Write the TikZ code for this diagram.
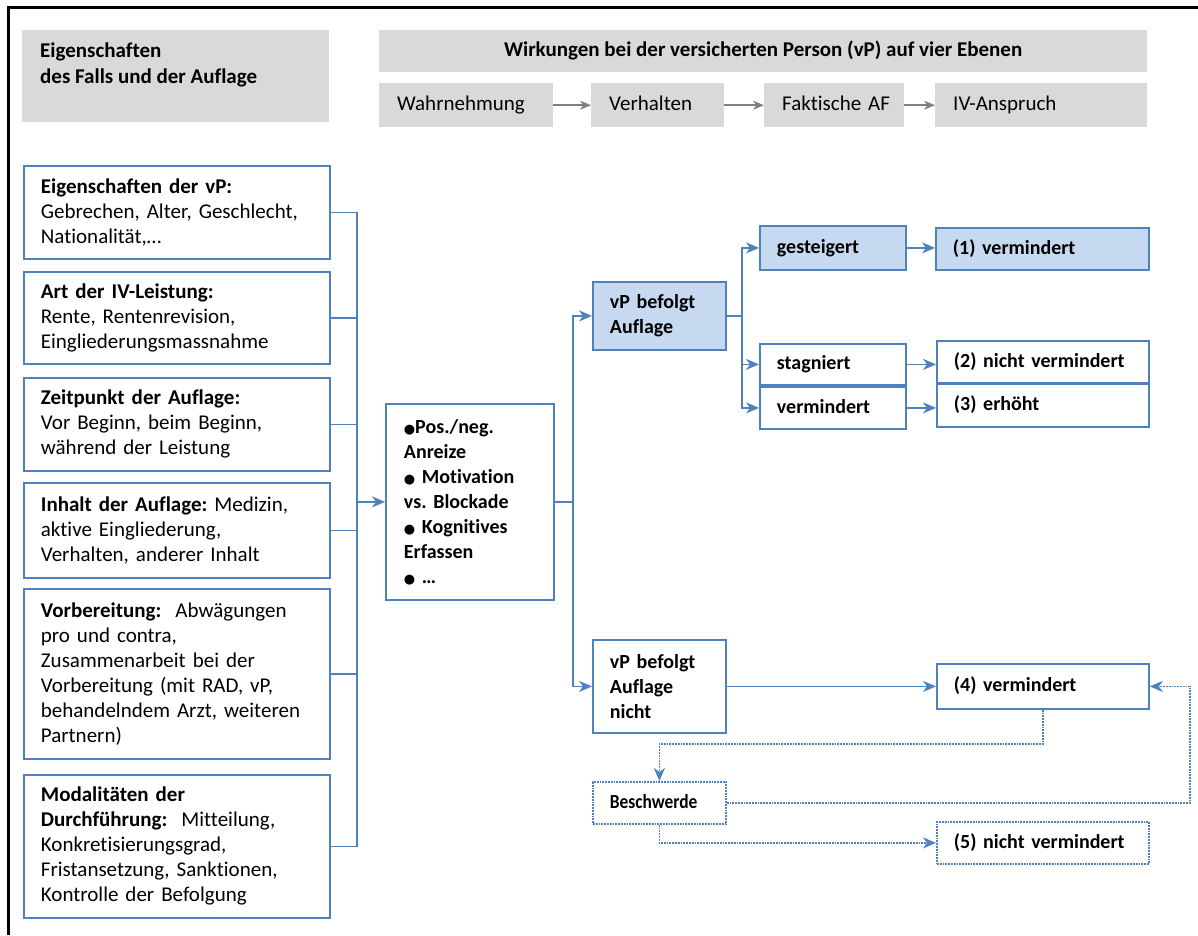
\documentclass[tikz,border=0pt]{standalone}
\usepackage{fontspec}
\setmainfont{Carlito}[Ligatures=NoCommon]
\newfontfamily\symfont{DejaVu Sans}
\newfontfamily\condfont{Carlito}[FakeStretch=0.87]
\usetikzlibrary{arrows.meta}
\definecolor{bl}{RGB}{79,129,189}
\definecolor{lb}{RGB}{198,217,241}
\definecolor{gr}{RGB}{217,217,217}
\definecolor{ga}{RGB}{128,128,128}
\newcommand\blt{{\symfont\fontsize{13}{25}\selectfont ●}}
\begin{document}
\frenchspacing
\begin{tikzpicture}[x=1pt,y=-1pt,
  every node/.style={font=\fontsize{21}{25}\selectfont},
  bf/.style={font=\fontsize{20}{25}\selectfont\bfseries},
  sl/.style={text height=15pt, text depth=4pt},
  bx/.style={draw=bl, line width=1.8pt, inner xsep=17pt, inner ysep=0pt, align=left, anchor=north west},
  fbx/.style={bx, fill=lb},
  dbx/.style={bx, densely dotted},
  gbx/.style={fill=gr, inner xsep=18pt, inner ysep=0pt, align=left, anchor=north west},
  con/.style={draw=bl, line width=1.8pt},
  arr/.style={con, -{Stealth[length=13pt,width=11pt,inset=4pt]}},
  dcon/.style={con, densely dotted},
  darr/.style={dcon, -{Stealth[length=13pt,width=11pt,inset=4pt]}},
  garr/.style={draw=ga, line width=1.5pt, -{Stealth[length=11pt,width=9pt,inset=3.5pt]}}
]
\useasboundingbox (0,0) rectangle (1198,935);
\draw[line width=2.5pt] (8.5,935) -- (8.5,7.5) -- (1198,7.5);

% header
\node[gbx, minimum width=307pt, minimum height=92pt] (hL) at (22,30) {};
\node[anchor=north west, inner sep=0pt, align=left, font=\fontsize{21}{26}\selectfont\bfseries] (hLt) at (40,42.5) {Eigenschaften\\des Falls und der Auflage};
\node[gbx, sl, minimum width=768pt, minimum height=42pt, align=center, font=\fontsize{21}{25}\selectfont\bfseries] (hT) at (379,30) {Wirkungen bei der versicherten Person (vP) auf vier Ebenen};
\node[gbx, sl, text width=138pt, minimum height=44pt] (g1) at (379,83) {Wahrnehmung};
\node[gbx, sl, text width=97pt, minimum height=44pt] (g2) at (591,83) {Verhalten};
\node[gbx, sl, text width=104pt, minimum height=44pt] (g3) at (764,83) {\mbox{Faktische AF}};
\node[gbx, sl, text width=176pt, minimum height=44pt] (g4) at (935,83) {IV-Anspruch};
\draw[garr] (g1.east) -- (g2.west);
\draw[garr] (g2.east) -- (g3.west);
\draw[garr] (g3.east) -- (g4.west);

% left boxes
\node[bx, text width=272pt, minimum height=93pt] (b1) at (23,165) {\textbf{Eigenschaften der vP:}\\Gebrechen, Alter, Geschlecht,\\Nationalität,…};
\node[bx, text width=272pt, minimum height=92pt] (b2) at (23,271) {\textbf{Art der IV-Leistung:}\\Rente, Rentenrevision,\\Eingliederungsmassnahme};
\node[bx, text width=272pt, minimum height=93pt] (b3) at (23,377) {\textbf{Zeitpunkt der Auflage:}\\Vor Beginn, beim Beginn,\\während der Leistung};
\node[bx, text width=272pt, minimum height=95pt] (b4) at (23,482) {\textbf{Inhalt der Auflage:} Medizin,\\aktive Eingliederung,\\Verhalten, anderer Inhalt};
\node[bx, text width=272pt, minimum height=170pt] (b5) at (23,588) {\textbf{Vorbereitung:}~ Abwägungen\\pro und contra,\\Zusammenarbeit bei der\\Vorbereitung (mit RAD, vP,\\behandelndem Arzt, weiteren\\Partnern)};
\node[bx, text width=272pt, minimum height=143pt] (b6) at (23,774) {\textbf{Modalitäten der}\\\textbf{Durchführung:}~ Mitteilung,\\Konkretisierungsgrad,\\Fristansetzung, Sanktionen,\\Kontrolle der Befolgung};

% center
\node[bx, bf, inner xsep=18pt, text width=132pt, minimum height=196pt] (cb) at (385,403) {\blt Pos./neg.\\Anreize\\\blt{} Motivation\\vs. Blockade\\\blt{} Kognitives\\Erfassen\\\blt{} …};

% right
\node[fbx, bf, text width=99pt, minimum height=68pt] (vp) at (592,281) {vP befolgt\\Auflage};
\node[fbx, bf, sl, text width=112pt, minimum height=44pt] (gest) at (759,225) {gesteigert};
\node[bx, bf, sl, text width=112pt, minimum height=41pt] (stag) at (759,343) {stagniert};
\node[bx, bf, sl, text width=112pt, minimum height=42pt] (verm) at (759,386) {vermindert};
\node[fbx, bf, sl, text width=179pt, minimum height=42pt] (r1) at (935,227) {(1) vermindert};
\node[bx, bf, sl, text width=178pt, minimum height=42pt] (r2) at (936,340) {(2) nicht vermindert};
\node[bx, bf, sl, text width=178pt, minimum height=43pt] (r3) at (936,383) {(3) erhöht};
\node[bx, bf, text width=99pt, minimum height=93pt] (vpn) at (592,639) {vP befolgt\\Auflage\\nicht};
\node[bx, bf, sl, text width=178pt, minimum height=45pt] (r4) at (936,663) {(4) vermindert};
\node[dbx, sl, text width=99pt, minimum height=42pt, font=\fontsize{20}{25}\selectfont\condfont\bfseries] (besch) at (592,781) {Beschwerde};
\node[dbx, bf, sl, text width=178pt, minimum height=42pt] (r5) at (936,821) {(5) nicht vermindert};

% connectors left bus
\coordinate (busL) at (357,0);
\draw[con] (b1.east) -- (b1.east -| busL) -- (b6.east -| busL) -- (b6.east);
\foreach \n in {b2,b3,b4,b5} \draw[con] (\n.east) -- (\n.east -| busL);
\draw[arr] (cb.west -| busL) -- (cb.west);

% center bus
\coordinate (busC) at (573,0);
\draw[con] (cb.east) -- (cb.east -| busC);
\draw[arr] (cb.east -| busC) |- (vp.west);
\draw[arr] (cb.east -| busC) |- (vpn.west);

% vp bus
\coordinate (busV) at (742,0);
\draw[con] (vp.east) -- (vp.east -| busV);
\draw[arr] (vp.east -| busV) |- (gest.west);
\draw[arr] (vp.east -| busV) |- (stag.west);
\draw[arr] (vp.east -| busV) |- (verm.west);
\draw[arr] (gest.east) -- (gest.east -| r1.west);
\draw[arr] (stag.east) -- (stag.east -| r2.west);
\draw[arr] (verm.east) -- (verm.east -| r3.west);
\draw[arr] (vpn.east) -- (r4.west);

% dotted
\coordinate (d1) at (0,744);
\coordinate (d2) at (1190,0);
\draw[darr] (r4.south) -- (r4.south |- d1) -| (besch.north);
\draw[darr] (besch.east) -- (besch.east -| d2) -- (r4.east -| d2) -- (r4.east);
\draw[darr] (besch.south) |- (r5.west);
\end{tikzpicture}
\end{document}
